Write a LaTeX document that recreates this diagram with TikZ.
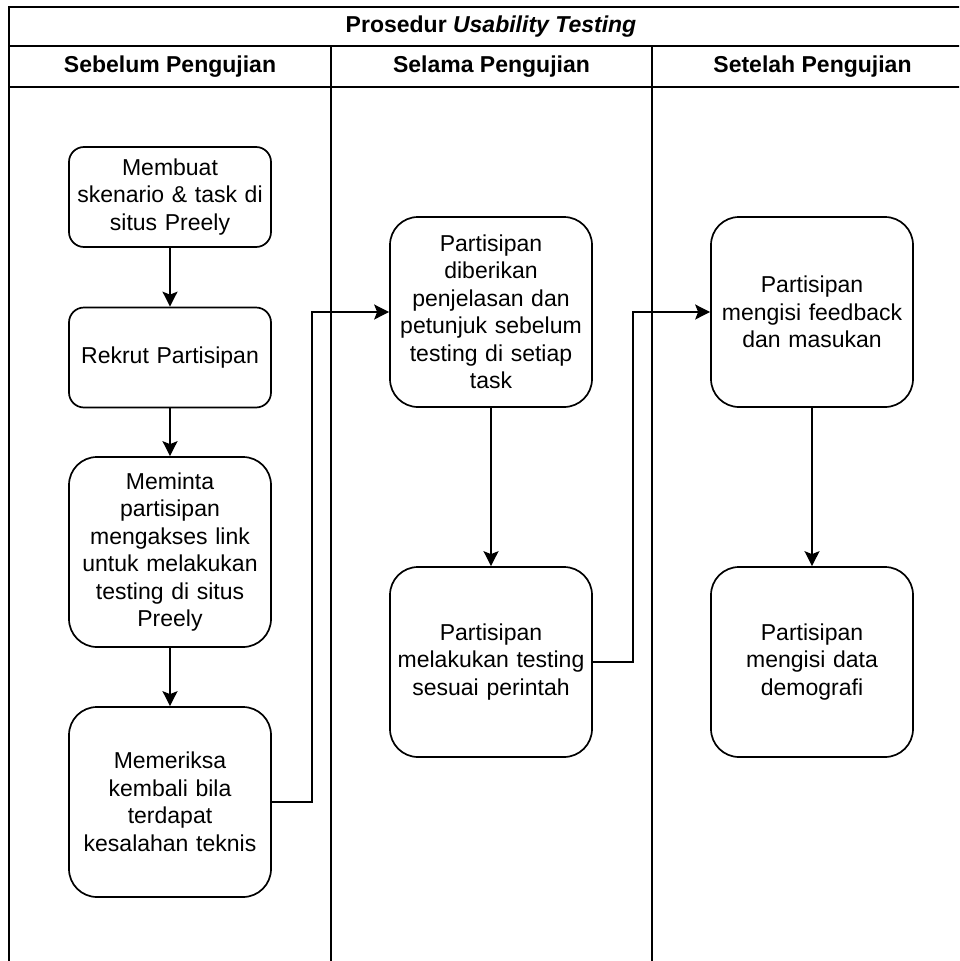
\documentclass[tikz,border=0pt]{standalone}
\usepackage{fontspec}
\setmainfont{Liberation Sans}
\usetikzlibrary{arrows.meta}

\begin{document}
\begin{tikzpicture}[x=1pt,y=-1pt,
  every node/.style={font=\fontsize{23}{27.5}\selectfont},
  frameline/.style={line width=1.7pt, black},
  stepbox/.style={draw, line width=1.7pt, align=center, minimum width=202pt,
    inner sep=0pt, text width=196pt},
  smallbox/.style={stepbox, minimum height=100pt, rounded corners=15pt},
  tallbox/.style={stepbox, minimum height=190pt, rounded corners=28pt},
  arr/.style={line width=1.5pt, -{Stealth[length=15pt,width=15pt,inset=3pt]}},
  header/.style={font=\fontsize{23}{27.5}\selectfont\bfseries}
]
\useasboundingbox (0,0) rectangle (959,961);
\clip (0,0) rectangle (959,961);

% pool frame and lanes
\draw[frameline] (9,1000) -- (9,7) -- (973,7) -- (973,1000);
\draw[frameline] (9,46) -- (973,46);
\draw[frameline] (9,87) -- (973,87);
\draw[frameline] (331,46) -- (331,1000);
\draw[frameline] (652,46) -- (652,1000);

% titles
\node[header] (title) at (491,27) {Prosedur \textit{Usability Testing}};
\node[header] (h1) at (170,67) {Sebelum Pengujian};
\node[header] (h2) at (491.5,67) {Selama Pengujian};
\node[header] (h3) at (812.5,67) {Setelah Pengujian};

% lane 1
\node[smallbox] (b1) at (170,197) {Membuat\\skenario \& task di\\situs Preely};
\node[smallbox] (b2) at (170,357.5) {Rekrut Partisipan};
\node[tallbox] (b3) at (170,552) {Meminta\\partisipan\\mengakses link\\untuk melakukan\\testing di situs\\Preely};
\node[tallbox] (b4) at (170,802) {Memeriksa\\kembali bila\\terdapat\\kesalahan teknis};

% lane 2
\node[tallbox] (b5) at (491,312) {Partisipan\\diberikan\\penjelasan dan\\petunjuk sebelum\\testing di setiap\\task};
\node[tallbox] (b6) at (491,662) {Partisipan\\melakukan testing\\sesuai perintah};

% lane 3
\node[tallbox] (b7) at (812,312) {Partisipan\\mengisi feedback\\dan masukan};
\node[tallbox] (b8) at (812,662) {Partisipan\\mengisi data\\demografi};

% flow
\draw[arr] (b1) -- (b2);
\draw[arr] (b2) -- (b3);
\draw[arr] (b3) -- (b4);
\draw[arr] (b4.east) -- ++(40,0) |- (b5.west);
\draw[arr] (b5) -- (b6);
\draw[arr] (b6.east) -- ++(40,0) |- (b7.west);
\draw[arr] (b7) -- (b8);
\end{tikzpicture}
\end{document}
